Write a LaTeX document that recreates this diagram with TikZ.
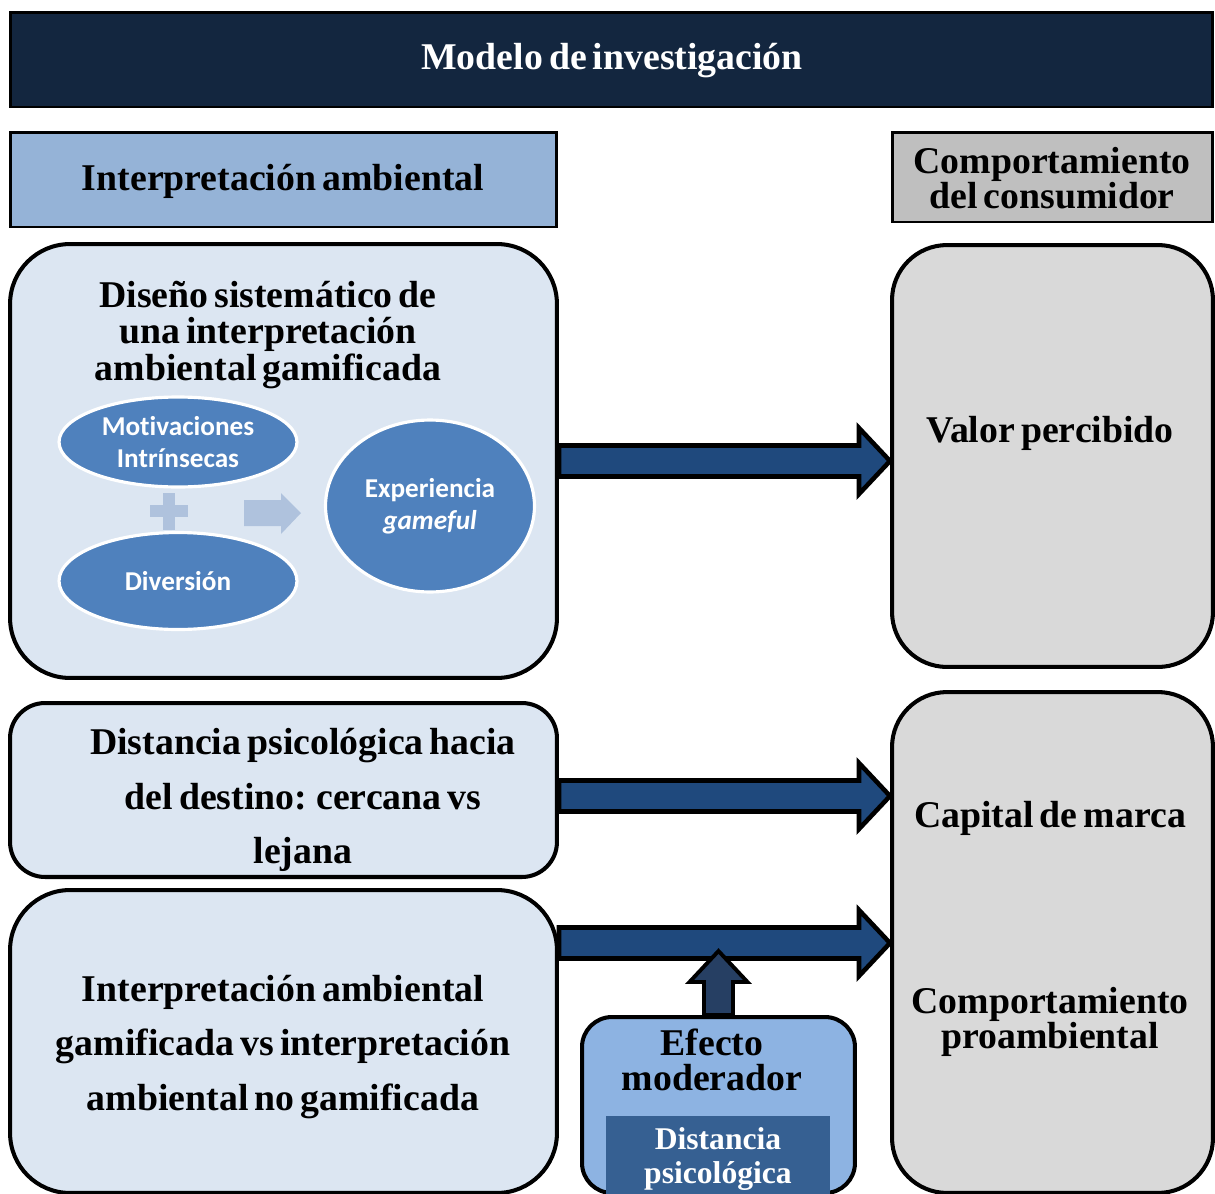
\documentclass[tikz,border=0pt]{standalone}
\usepackage{fontspec}
\setmainfont{Liberation Serif}[WordSpace=0.65]
\newfontfamily\calib{Carlito}[Ligatures=NoCommon]
\usepackage{tikz}
\usetikzlibrary{calc,shapes.geometric}

\definecolor{navy}{HTML}{13263F}
\definecolor{hdrblue}{HTML}{95B3D7}
\definecolor{hdrgray}{HTML}{BFBFBF}
\definecolor{boxblue}{HTML}{DCE6F2}
\definecolor{boxgray}{HTML}{D9D9D9}
\definecolor{ellblue}{HTML}{4F81BD}
\definecolor{paleblue}{HTML}{AFC2DD}
\definecolor{arrblue}{HTML}{1F497D}
\definecolor{slate}{HTML}{263F63}
\definecolor{modblue}{HTML}{8DB3E2}
\definecolor{darkblue}{HTML}{366092}

\newcommand{\harrow}[2]{\draw[blockarr] let \p1=(#1), \p2=(#2) in
	(\x1,{\y1+0.31cm}) -- ({\x2-0.62cm},{\y1+0.31cm}) -- ({\x2-0.62cm},{\y1+0.66cm})
	-- (\x2,\y1) -- ({\x2-0.62cm},{\y1-0.66cm}) -- ({\x2-0.62cm},{\y1-0.31cm})
	-- (\x1,{\y1-0.31cm}) -- cycle;}
\newcommand{\varrow}[2]{\draw[modarr] let \p1=(#1), \p2=(#2) in
	({\x1-0.29cm},\y1) -- ({\x1-0.29cm},{\y2-0.62cm}) -- ({\x1-0.58cm},{\y2-0.62cm})
	-- (\x1,\y2) -- ({\x1+0.58cm},{\y2-0.62cm}) -- ({\x1+0.29cm},{\y2-0.62cm})
	-- ({\x1+0.29cm},\y1) -- cycle;}

\begin{document}
\begin{tikzpicture}[x=0.02cm, y=-0.02cm]
\tikzstyle{serif} = [font=\bfseries\fontsize{21.5}{21}\selectfont, align=center, inner sep=0pt]
\tikzstyle{bigbox} = [draw=black, line width=2.3pt, rounded corners=1.2cm, inner sep=0pt]
\tikzstyle{hdr} = [draw=black, line width=1.7pt, inner sep=0pt]
\tikzstyle{oval} = [ellipse, fill=ellblue, draw=white, line width=1.8pt, text=white, inner sep=0pt, align=center, font=\calib\bfseries\fontsize{15.5}{18}\selectfont]
\tikzstyle{blockarr} = [fill=arrblue, draw=black, line width=2.6pt, line join=miter]
\tikzstyle{modarr} = [fill=slate, draw=black, line width=2.2pt, line join=miter]
\useasboundingbox (0,0) rectangle (1215,1194);
\clip (0,0) rectangle (1215,1194);

\node[hdr, fill=navy, minimum width=24.06cm, minimum height=1.9cm] (title) at (611.5,59.5) {};
\node[serif, text=white] (titletxt) at (612,61) {Modelo de investigación};
\node[hdr, fill=hdrblue, minimum width=10.94cm, minimum height=1.9cm] (hdrleft) at (283.5,179.5) {};
\node[serif] (hdrlefttxt) at (283,181) {Interpretación ambiental};
\node[hdr, fill=hdrgray, minimum width=6.42cm, minimum height=1.8cm] (hdrright) at (1052.5,177) {};
\node[serif, font=\bfseries\fontsize{21.5}{20}\selectfont] (hdrrighttxt) at (1052,178) {Comportamiento\\del consumidor};

\node[bigbox, fill=boxblue, minimum width=10.94cm, minimum height=8.68cm] (diseno) at (283.5,461) {};
\node[serif] (disenotxt) at (268,335) {Diseño sistemático de\\una interpretación\\ambiental gamificada};
\fill[paleblue] (163,493) rectangle (175,530);
\fill[paleblue] (150,505) rectangle (188,517);
\fill[paleblue] (244,500) -- (281,500) -- (281,493) -- (301,513) -- (281,534) -- (281,526) -- (244,526) -- cycle;
\node[oval, minimum width=4.76cm, minimum height=1.8cm] (motiv) at (178,442) {Motivaciones\\Intrínsecas};
\node[oval, minimum width=4.76cm, minimum height=1.94cm] (divers) at (178,581) {Diversión};
\node[oval, minimum width=4.18cm, minimum height=3.44cm] (exper) at (430,506) {Experiencia\\\textit{gameful}};

\node[bigbox, fill=boxgray, rounded corners=1.1cm, minimum width=6.42cm, minimum height=8.44cm] (valor) at (1052.5,456) {};
\node[serif] (valortxt) at (1050,433) {Valor percibido};

\node[bigbox, fill=boxblue, rounded corners=0.7cm, minimum width=10.94cm, minimum height=3.48cm] (distancia) at (283.5,790) {};
\node[serif, font=\bfseries\fontsize{21.5}{31}\selectfont] (distxt) at (303,800) {Distancia psicológica hacia\\del destino: cercana vs\\lejana};
\node[bigbox, fill=boxblue, minimum width=10.94cm, minimum height=6.06cm] (gamif) at (283.5,1041.5) {};
\node[serif, font=\bfseries\fontsize{21.5}{31}\selectfont] (gamtxt) at (283,1047) {Interpretación ambiental\\gamificada vs interpretación\\ambiental no gamificada};

\node[bigbox, fill=boxgray, rounded corners=1.1cm, minimum width=6.42cm, minimum height=10.02cm] (capital) at (1052.5,942.5) {};
\node[serif] (captxt) at (1050,818) {Capital de marca};
\node[serif, font=\bfseries\fontsize{21.5}{20}\selectfont] (protxt) at (1050,1022) {Comportamiento\\proambiental};

\node[bigbox, fill=modblue, rounded corners=0.6cm, minimum width=5.46cm, minimum height=3.52cm] (efecto) at (718.5,1105) {};
\node[serif, font=\bfseries\fontsize{21.5}{20}\selectfont] (efectotxt) at (712,1060) {Efecto\\moderador};
\node[fill=darkblue, minimum width=4.48cm, minimum height=1.68cm, inner sep=0pt] (distpsi) at (718,1158) {};
\node[serif, text=white, font=\bfseries\fontsize{18}{19}\selectfont] (distpsitxt) at (718,1159) {Distancia\\psicológica};

\coordinate (d2) at ($(distancia.east)+(0,6)$);
\coordinate (g3) at ($(gamif.north east)+(0,55)$);
\coordinate (m3) at ($(efecto.north |- g3)+(0,8)$);
\harrow{diseno.east}{valor.west |- diseno.east}
\harrow{d2}{capital.west |- d2}
\harrow{g3}{capital.west |- g3}
\varrow{efecto.north}{m3}
\end{tikzpicture}
\end{document}
